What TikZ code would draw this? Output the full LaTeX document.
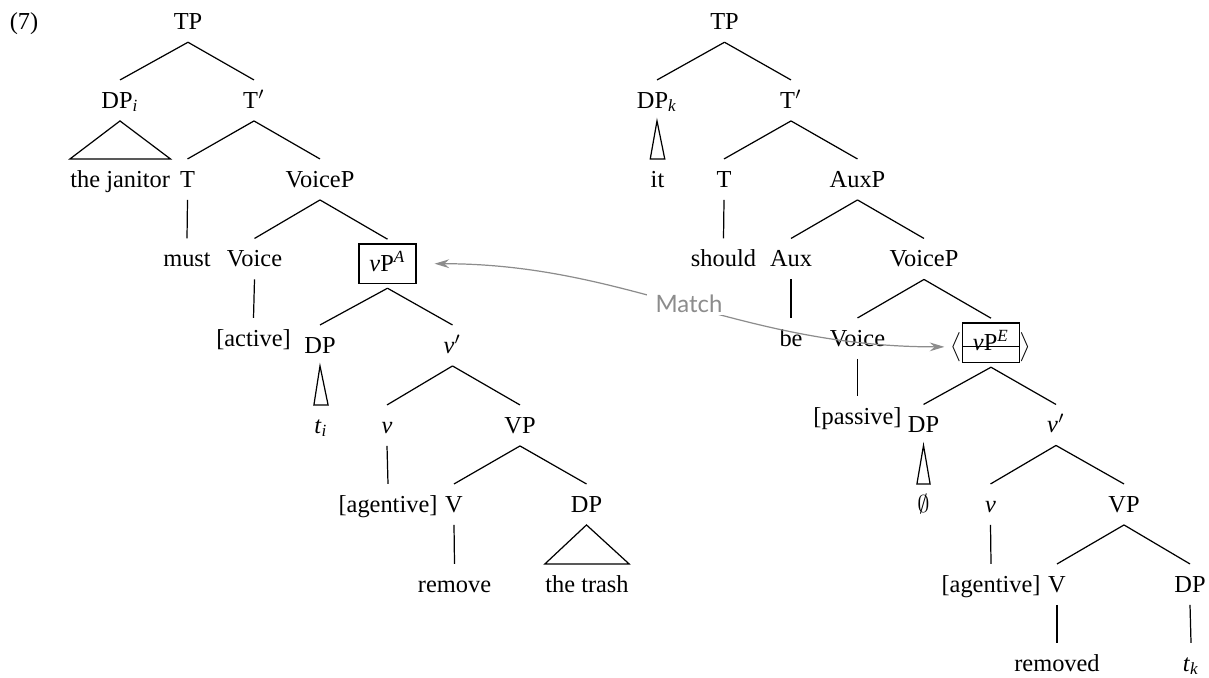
\documentclass[tikz,border=0pt]{standalone}
\usepackage{fontspec}
\setmainfont{Liberation Serif}
\newfontfamily\matchfont{Lato}
\usetikzlibrary{arrows.meta}
\definecolor{matchgray}{gray}{0.55}
\tikzset{
  lbl/.style={anchor=base, inner sep=0pt, text height=11.3pt, text depth=5.1pt},
  boxed/.style={draw, line width=0.5pt, anchor=center, inner xsep=0pt, inner ysep=3pt,
    minimum width=23.4pt, minimum height=16.1pt, text height=8.25pt, text depth=1.75pt,
    outer xsep=0pt, outer ysep=2pt},
  anglebr/.style={inner sep=0pt, outer sep=0pt},
  edge/.style={line width=0.5pt},
  matcharrow/.style={matchgray, line width=0.5pt,
    {Stealth[length=6pt,width=3.6pt,inset=2pt]}-{Stealth[length=6pt,width=3.6pt,inset=2pt]},
    shorten <=7.6pt, shorten >=2.7pt},
  matchlbl/.style={font=\matchfont\fontsize{9.8}{11}\selectfont, text=matchgray, fill=white,
    inner xsep=3.5pt, inner ysep=1pt}
}
\begin{document}
\begin{tikzpicture}[x={(0.41pt,0pt)}, y={(0pt,-0.41pt)}]
\useasboundingbox (0,0) rectangle (1209,677);
% left tree
\node[lbl] (num) at (24,29.3) {(7)};
\node[lbl] (TPa) at (188,29.3) {TP};
\node[lbl] (DPi) at (120,108) {DP\textsubscript{\textit{i}}};
\node[lbl] (Tbara) at (254,108) {T$'$};
\node[lbl] (jan) at (120.2,187) {the janitor};
\node[lbl] (Ta) at (187.5,187) {T};
\node[lbl] (VoicePa) at (320,187) {VoiceP};
\node[lbl] (must) at (187,266.5) {must};
\node[lbl] (Voicea) at (254.5,266.5) {Voice};
\node[boxed] (vPA) at (387.5,263.7) {\textit{v}P\textsuperscript{\textit{A}}};
\node[lbl] (active) at (253.5,346) {[active]};
\node[lbl] (DPa) at (320,353) {DP};
\node[lbl] (vbara) at (452.5,353) {\textit{v}$'$};
\node[lbl] (ti) at (321,433) {\textit{t}\textsubscript{\textit{i}}};
\node[lbl] (va) at (387,433) {\textit{v}};
\node[lbl] (VPa) at (520,433) {VP};
\node[lbl] (agenta) at (388,512) {[agentive]};
\node[lbl] (Va) at (454,512) {V};
\node[lbl] (DPb) at (586.5,512) {DP};
\node[lbl] (remove) at (454.5,592) {remove};
\node[lbl] (trash) at (587,592) {the trash};
% right tree
\node[lbl] (TPb) at (724.5,29.3) {TP};
\node[lbl] (DPk) at (657,108) {DP\textsubscript{\textit{k}}};
\node[lbl] (Tbarb) at (791,108) {T$'$};
\node[lbl] (it) at (657.5,187) {it};
\node[lbl] (Tb) at (724,187) {T};
\node[lbl] (AuxP) at (857.5,187) {AuxP};
\node[lbl] (should) at (723.5,266.5) {should};
\node[lbl] (Aux) at (791,266.5) {Aux};
\node[lbl] (VoicePb) at (924,266.5) {VoiceP};
\node[lbl] (be) at (791,346) {be};
\node[lbl] (Voiceb) at (857.5,346) {Voice};
\node[boxed] (vPE) at (991,342.7) {\textit{v}P\textsuperscript{\textit{E}}};
\node[anglebr, anchor=east, yshift=-1.7pt] (vPEl) at (vPE.west) {$\big\langle$};
\node[anglebr, anchor=west, yshift=-1.7pt] (vPEr) at (vPE.east) {$\big\rangle$};
\draw[edge] ([yshift=-1.6pt]vPE.west) -- ([yshift=-1.6pt]vPE.east);
\node[lbl] (passive) at (857.5,424.5) {[passive]};
\node[lbl] (DPc) at (923.5,432.5) {DP};
\node[lbl] (vbarb) at (1056,432.5) {\textit{v}$'$};
\node[lbl] (empty) at (923.5,512) {$\emptyset$};
\node[lbl] (vb) at (990.5,512) {\textit{v}};
\node[lbl] (VPb) at (1124,512) {VP};
\node[lbl] (agentb) at (991,592) {[agentive]};
\node[lbl] (Vb) at (1057,592) {V};
\node[lbl] (DPd) at (1190,592) {DP};
\node[lbl] (removed) at (1057,671) {removed};
\node[lbl] (tk) at (1191,671) {\textit{t}\textsubscript{\textit{k}}};
% edges
\foreach \a/\b in {TPa/DPi, TPa/Tbara, Tbara/Ta, Tbara/VoicePa, Ta/must, VoicePa/Voicea,
  VoicePa/vPA, Voicea/active, vPA/DPa, vPA/vbara, vbara/va, vbara/VPa, va/agenta, VPa/Va,
  VPa/DPb, Va/remove, TPb/DPk, TPb/Tbarb, Tbarb/Tb, Tbarb/AuxP, Tb/should, AuxP/Aux,
  AuxP/VoicePb, Aux/be, VoicePb/Voiceb, VoicePb/vPE, Voiceb/passive, vPE/DPc, vPE/vbarb,
  vbarb/vb, vbarb/VPb, vb/agentb, VPb/Vb, VPb/DPd, Vb/removed, DPd/tk}
  \draw[edge] (\a.south) -- (\b.north);
% triangles
\foreach \a/\b in {DPi/jan, DPa/ti, DPb/trash, DPk/it, DPc/empty}
  \draw[edge, line join=miter] (\a.south) -- (\b.north west) -- (\b.north east) -- cycle;
% match arrow
\draw[matcharrow] (vPA.east) to[out=0, in=180] (vPEl.west);
\node[matchlbl] (match) at (689,304) {Match};
\end{tikzpicture}
\end{document}
